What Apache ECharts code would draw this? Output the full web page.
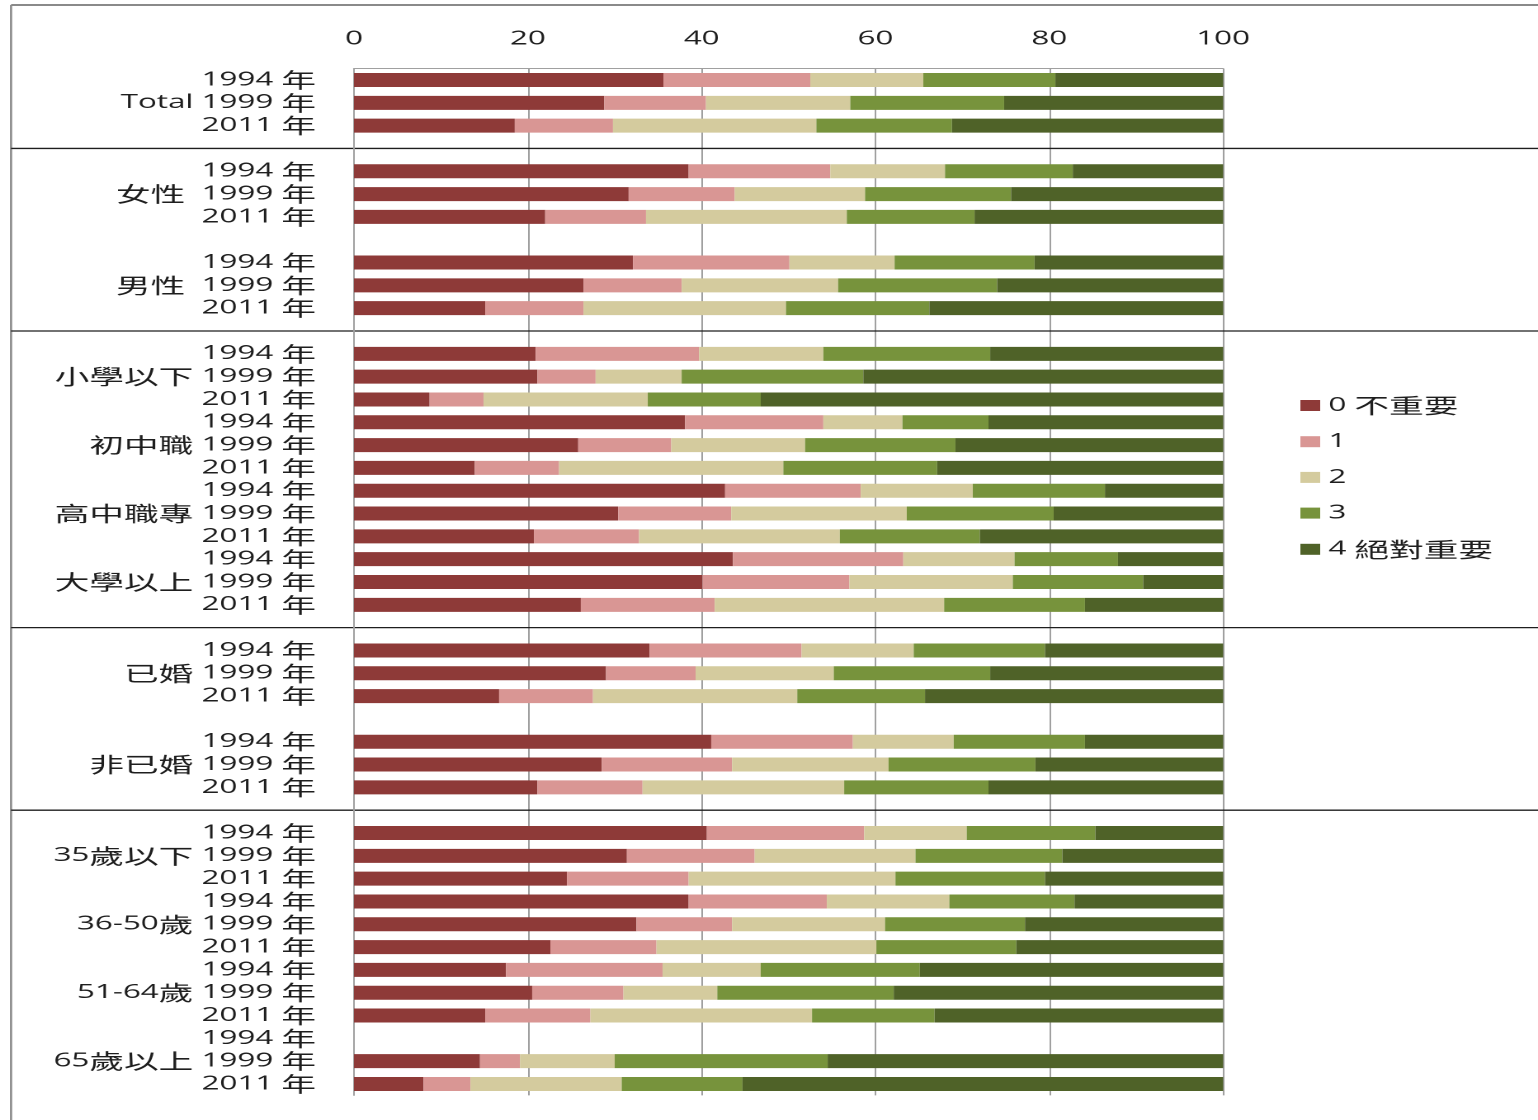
<!DOCTYPE html>
<html><head><meta charset="utf-8">
<script src="https://cdn.jsdelivr.net/npm/echarts@6.0.0/dist/echarts.min.js"></script>
<style>
html,body{margin:0;padding:0;overflow:hidden;background:#fff;width:1538px;height:1120px;}
#wrap{width:1538px;height:1120px;overflow:hidden;position:relative;}
#chart{width:932px;height:1120px;transform:scaleX(1.650215);transform-origin:0 0;}
</style></head><body><div id="wrap"><div id="chart"></div></div>
<script>
// ---- data ----
const groups = ['Total','女性','男性','小學以下','初中職','高中職專','大學以上','已婚','非已婚','35歲以下','36-50歲','51-64歲','65歲以上'];
const years = ['1994 年','1999 年','2011 年'];
const legendNames = ['0 不重要','1','2','3','4 絕對重要'];
const valueTicks = [0, 20, 40, 60, 80, 100];
// one value per group x year, in the order of groups then years
const imp0 = [35.6,28.8,18.5, 38.5,31.6,22.0, 32.1,26.4,15.1, 20.9,21.1,8.7, 38.1,25.8,13.9, 42.7,30.4,20.7, 43.6,40.1,26.1, 34.0,29.0,16.7, 41.1,28.5,21.1, 40.6,31.4,24.5, 38.5,32.5,22.6, 17.5,20.5,15.1, null,14.5,8.0];
const imp1 = [16.9,11.7,11.3, 16.3,12.2,11.6, 18.0,11.3,11.3, 18.8,6.7,6.2, 15.9,10.7,9.7, 15.6,13.0,12.1, 19.6,16.9,15.4, 17.5,10.3,10.8, 16.3,15.0,12.1, 18.1,14.7,14.0, 15.9,11.0,12.2, 18.0,10.5,12.1, null,4.6,5.4];
const imp2 = [13.0,16.6,23.4, 13.2,15.0,23.1, 12.1,18.0,23.3, 14.3,9.9,18.9, 9.1,15.4,25.8, 12.9,20.2,23.1, 12.8,18.8,26.4, 12.9,15.9,23.5, 11.6,18.0,23.2, 11.8,18.5,23.8, 14.1,17.6,25.3, 11.3,10.8,25.5, null,10.9,17.4];
const imp3 = [15.2,17.7,15.6, 14.7,16.8,14.7, 16.1,18.3,16.5, 19.2,20.9,13.0, 9.9,17.3,17.7, 15.2,16.9,16.1, 11.9,15.0,16.2, 15.1,18.0,14.7, 15.1,16.9,16.6, 14.8,16.9,17.2, 14.4,16.1,16.1, 18.3,20.3,14.1, null,24.5,13.9];
const imp4 = [19.3,25.2,31.2, 17.3,24.4,28.6, 21.7,26.0,33.8, 26.8,41.4,53.2, 27.0,30.8,32.9, 13.6,19.5,28.0, 12.1,9.2,15.9, 20.5,26.8,34.3, 15.9,21.6,27.0, 14.7,18.5,20.5, 17.1,22.8,23.8, 34.9,37.9,33.2, null,45.5,55.3];
const gapAfter = ['Total','女性','男性','大學以上','已婚','非已婚'];
const sectionBreakAfter = ['Total','男性','大學以上','非已婚'];

// ---- style ----
const colors = ['#8E3A38','#D99694','#D4CB9E','#77933C','#4F6228'];
const FONT = '"Open Sans", "Noto Sans CJK TC", sans-serif';
const CJK = '"Noto Sans CJK TC", sans-serif';
const TXT = '#1e1e1e';
const rich = {c: {fontSize: 21, fontFamily: CJK, color: TXT, lineHeight: 20}};
function richify(s) { return s.replace(/([\u3000-\u9fff\uf900-\ufaff]+)/g, '{c|$1}'); }

// ---- build rows ----
const seriesVals = [imp0, imp1, imp2, imp3, imp4];
const categories = [];
const rows = seriesVals.map(() => []);
groups.forEach((g, gi) => {
  years.forEach((y, yi) => {
    categories.push(g + '|' + y);
    seriesVals.forEach((arr, si) => rows[si].push(arr[gi * 3 + yi]));
  });
  if (gapAfter.indexOf(g) >= 0) {
    categories.push('gap|' + g);
    rows.forEach(r => r.push(null));
  }
});

const chart = echarts.init(document.getElementById('chart'), null, {devicePixelRatio: 2});
const W = 932, H = 1120;
const option = {
  animation: false,
  backgroundColor: '#fff',
  textStyle: {fontFamily: FONT},
  grid: {left: 214.5, right: 190.8, top: 68.6, bottom: 24.6, containLabel: false, outerBoundsMode: 'none'},
  legend: {
    orient: 'vertical', left: 783, top: 390,
    itemWidth: 12, itemHeight: 11, itemGap: 15.7, icon: 'rect',
    textStyle: {fontSize: 19, lineHeight: 20, color: TXT, fontFamily: FONT, rich: rich},
    formatter: function (n) { return richify(n); },
    data: legendNames
  },
  xAxis: {
    type: 'value', position: 'top', min: valueTicks[0], max: valueTicks[valueTicks.length - 1], interval: 20,
    axisLine: {show: true, lineStyle: {color: '#a0a0a0', width: 1}},
    axisTick: {show: false},
    splitLine: {show: true, lineStyle: {color: '#a0a0a0', width: 1}},
    axisLabel: {fontSize: 19, color: TXT, margin: 20, fontFamily: FONT}
  },
  yAxis: {
    type: 'category', inverse: true, data: categories,
    axisLine: {show: true, lineStyle: {color: '#a0a0a0', width: 1}},
    axisTick: {show: false},
    splitLine: {show: false},
    axisLabel: {
      interval: 0, fontSize: 19, lineHeight: 20, color: TXT, margin: 23, fontFamily: FONT, rich: rich,
      formatter: function (v) {
        const p = v.split('|');
        if (p[0] === 'gap') return '';
        if (p[1] === years[1]) return richify(p[0] + ((p[0] === '女性' || p[0] === '男性') ? '  ' : ' ') + p[1]);
        return richify(p[1]);
      }
    }
  },
  series: legendNames.map((n, i) => ({
    name: n, type: 'bar', stack: 'total', data: rows[i], barWidth: 14,
    itemStyle: {color: colors[i]}, emphasis: {disabled: true}
  }))
};
chart.setOption(option);

// decorative frame and section separators positioned from the category scale
const frameX = 6.7;
const graphics = [
  {type: 'line', shape: {x1: frameX, y1: 5, x2: W, y2: 5}, style: {stroke: '#8a8a8a', lineWidth: 2}, silent: true},
  {type: 'line', shape: {x1: frameX, y1: 5, x2: frameX, y2: H}, style: {stroke: '#8a8a8a', lineWidth: 1.3}, silent: true}
];
sectionBreakAfter.forEach(g => {
  const y = chart.convertToPixel({yAxisIndex: 0}, categories.indexOf('gap|' + g));
  graphics.push({type: 'line', shape: {x1: frameX, y1: y, x2: W, y2: y}, style: {stroke: '#1e1e1e', lineWidth: 1.3}, silent: true});
});
chart.setOption({graphic: graphics});
</script></body></html>
